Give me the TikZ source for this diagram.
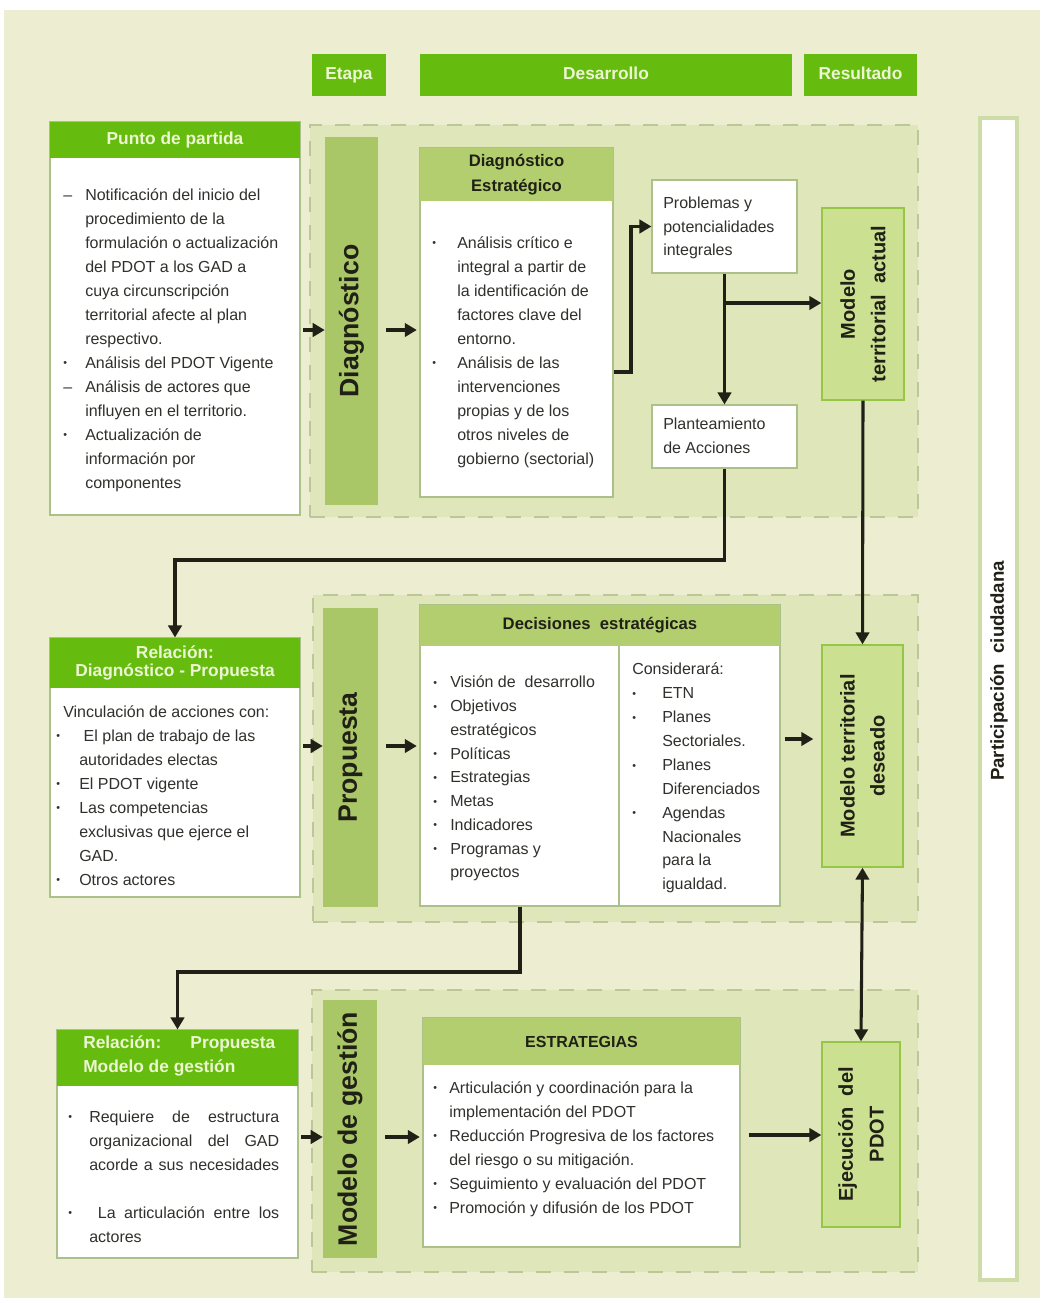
\documentclass[tikz,border=0pt]{standalone}
\usepackage{fontspec}
\setmainfont{Liberation Sans}
\usetikzlibrary{arrows.meta,fit,calc}
\definecolor{cream}{RGB}{237,237,210}
\definecolor{zone}{RGB}{222,230,186}
\definecolor{zoneline}{RGB}{188,198,152}
\definecolor{brightg}{RGB}{102,188,14}
\definecolor{olive}{RGB}{170,199,104}
\definecolor{olivehd}{RGB}{178,206,110}
\definecolor{modelf}{RGB}{203,224,145}
\definecolor{modeld}{RGB}{150,198,70}
\definecolor{wline}{RGB}{172,192,138}
\definecolor{htext}{RGB}{236,246,210}
\definecolor{ink}{RGB}{32,32,22}
\definecolor{bodyt}{RGB}{48,48,44}
\definecolor{partline}{RGB}{206,220,168}
\newcommand\bul{\raisebox{1pt}{\fontsize{8}{8}\selectfont •}}
\begin{document}
\begin{tikzpicture}[x=0.75pt,y=-0.75pt,
  zonebox/.style={fill=zone, draw=zoneline, line width=1.2pt, dash pattern=on 11pt off 10pt, inner sep=0pt},
  wbox/.style={fill=white, draw=wline, line width=0.8pt, inner sep=0pt},
  ghead/.style={fill=brightg, draw=none, inner sep=0pt, text=htext, font=\fontsize{13}{14}\selectfont\bfseries, align=center},
  ohead/.style={fill=olivehd, draw=none, inner sep=0pt, text=ink, font=\fontsize{12.5}{19}\selectfont\bfseries, align=center},
  barbox/.style={fill=olive, draw=none, inner sep=0pt},
  modelbox/.style={fill=modelf, draw=modeld, line width=1pt, inner sep=0pt},
  bartext/.style={rotate=90, inner sep=0pt, font=\fontsize{20}{22}\selectfont\bfseries, text=ink},
  mtext/.style={rotate=90, inner sep=0pt, font=\fontsize{15}{23}\selectfont\bfseries, align=center, text=ink},
  body/.style={anchor=north west, inner sep=0pt, font=\fontsize{12}{18}\selectfont, text=bodyt},
  arr/.style={draw=ink, line width=2.3pt, -{Triangle[length=9pt,width=10pt]}},
  darr/.style={draw=ink, line width=2.3pt, {Triangle[length=9pt,width=10pt]}-{Triangle[length=9pt,width=10pt]}}
]
% background
\fill[white] (0,0) rectangle (1043,1303);
\fill[cream] (4,10) rectangle (1040,1298);
\useasboundingbox (0,0) rectangle (1043,1303);

% top headers
\node[ghead, fit={(312,54)(386,96)}] (etapa) {};
\node[ghead] (etapat) at (etapa.center) {Etapa\vphantom{Ep}};
\node[ghead, fit={(420,54)(792,96)}] (desa) {};
\node[ghead] (desat) at (desa.center) {Desarrollo\vphantom{Ep}};
\node[ghead, fit={(804,54)(917,96)}] (resu) {};
\node[ghead] (resut) at (resu.center) {Resultado\vphantom{Ep}};

% participacion
\node[fill=white, draw=partline, line width=2.5pt, inner sep=0pt, fit={(980,118)(1017,1280)}] (part) {};
\node[rotate=90, inner sep=0pt, font=\fontsize{14}{16}\selectfont\bfseries, text=ink] (partt) at (999,671) {Participación\ \ ciudadana};

% zones
\node[zonebox, fit={(310,125)(918,517)}] (zone1) {};
\node[zonebox, fit={(313,595)(918,922)}] (zone2) {};
\node[zonebox, fit={(312,990)(918,1272)}] (zone3) {};

% ===== Row 1 =====
\node[wbox, fit={(50,122)(300,515)}] (punto) {};
\node[ghead, fit={(50,122)(300,158)}] (puntoh) {};
\node[ghead] (puntoht) at (puntoh.center) {Punto de partida};
\node[body] (puntot) at (63,183) {\begin{tabular}{@{}p{16.5pt}@{}l@{}}
-- & Notificación del inicio del\\
 & procedimiento de la\\
 & formulación o actualización\\
 & del PDOT a los GAD a\\
 & cuya circunscripción\\
 & territorial afecte al plan\\
 & respectivo.\\
\bul & Análisis del PDOT Vigente\\
-- & Análisis de actores que\\
 & influyen en el territorio.\\
\bul & Actualización de\\
 & información por\\
 & componentes
\end{tabular}};

\node[barbox, fit={(325,137)(378,505)}] (diagbar) {};
\node[bartext] (diagbart) at (diagbar.center) {Diagnóstico};

\node[wbox, fit={(420,148)(613,497)}] (de) {};
\node[ohead, fit={(420,148)(613,201)}] (deh) {};
\node[ohead] (deht) at (deh.center) {Diagnóstico\\Estratégico};
\node[body] (det) at (432,231) {\begin{tabular}{@{}p{18.75pt}@{}l@{}}
\bul & Análisis crítico e\\
 & integral a partir de\\
 & la identificación de\\
 & factores clave del\\
 & entorno.\\
\bul & Análisis de las\\
 & intervenciones\\
 & propias y de los\\
 & otros niveles de\\
 & gobierno (sectorial)
\end{tabular}};

\node[wbox, fit={(652,180)(797,273)}] (prob) {};
\node[body] (probt) at (663,192) {\fontsize{12}{17.6}\selectfont\begin{tabular}{@{}l@{}}
Problemas y\\ potencialidades\\ integrales\end{tabular}};
\node[wbox, fit={(652,405)(797,468)}] (plant) {};
\node[body] (plantt) at (663,413) {\fontsize{12}{17.6}\selectfont\begin{tabular}{@{}l@{}}
Planteamiento\\ de Acciones\end{tabular}};

\node[modelbox, fit={(822,208)(904,400)}] (mta) {};
\node[mtext] (mtat) at (mta.center) {Modelo\\territorial\ \ actual};

% ===== Row 2 =====
\node[wbox, fit={(50,638)(300,897)}] (rel1) {};
\node[ghead, fit={(50,638)(300,688)}] (rel1h) {};
\node[ghead, font=\fontsize{13}{13.5}\selectfont\bfseries] (rel1ht) at (rel1h.center) {Relación:\\Diagnóstico - Propuesta};
\node[body] (rel1t) at (56,700) {\begin{tabular}{@{}p{17.25pt}@{}l@{}}
\multicolumn{2}{@{}l@{}}{\hspace{5.25pt}Vinculación de acciones con:}\\
\bul & \ El plan de trabajo de las\\
 & autoridades electas\\
\bul & El PDOT vigente\\
\bul & Las competencias\\
 & exclusivas que ejerce el\\
 & GAD.\\
\bul & Otros actores
\end{tabular}};

\node[barbox, fit={(323,608)(378,907)}] (propbar) {};
\node[bartext] (propbart) at (propbar.center) {Propuesta};

\node[wbox, fit={(420,605)(780,906)}] (dec) {};
\node[ohead, fit={(420,605)(780,646)}] (dech) {};
\node[ohead] (decht) at (dech.center) {Decisiones\ \ estratégicas};
\draw[wline, line width=0.8pt] (dech.south -| 619,0) coordinate (decdiv) -- (dec.south -| 619,0) coordinate (decdivb);
\node[body] (declt) at (433,671) {\fontsize{12}{17.8}\selectfont\begin{tabular}{@{}p{12.75pt}@{}l@{}}
\bul & Visión de\ \ desarrollo\\
\bul & Objetivos\\
 & estratégicos\\
\bul & Políticas\\
\bul & Estrategias\\
\bul & Metas\\
\bul & Indicadores\\
\bul & Programas y\\
 & proyectos
\end{tabular}};
\node[body] (decrt) at (632,658) {\fontsize{12}{17.9}\selectfont\begin{tabular}{@{}p{22.5pt}@{}l@{}}
\multicolumn{2}{@{}l@{}}{Considerará:}\\
\bul & ETN\\
\bul & Planes\\
 & Sectoriales.\\
\bul & Planes\\
 & Diferenciados\\
\bul & Agendas\\
 & Nacionales\\
 & para la\\
 & igualdad.
\end{tabular}};

\node[modelbox, fit={(822,645)(903,867)}] (mtd) {};
\node[mtext, font=\fontsize{15}{22.5}\selectfont\bfseries] (mtdt) at (mtd.center) {Modelo territorial\\deseado};

% ===== Row 3 =====
\node[wbox, fit={(57,1030)(298,1258)}] (rel2) {};
\node[ghead, fit={(57,1030)(298,1086)}] (rel2h) {};
\node[ghead, anchor=north west, align=left, font=\fontsize{13}{18}\selectfont\bfseries] (rel2ht) at (83,1036) {\makebox[144pt][s]{Relación: Propuesta}\\Modelo de gestión};
\node[body] (rel2t) at (68,1105) {\begin{tabular}{@{}p{15.75pt}@{}l@{}}
\bul & \makebox[142.5pt][s]{Requiere de estructura}\\
 & \makebox[142.5pt][s]{organizacional del GAD}\\
 & \makebox[142.5pt][s]{acorde a sus necesidades}\\
 & \\
\bul & \makebox[142.5pt][s]{\ La articulación entre los}\\
 & actores
\end{tabular}};

\node[barbox, fit={(323,1000)(377,1258)}] (mgbar) {};
\node[bartext] (mgbart) at (mgbar.center) {Modelo de gestión};

\node[wbox, fit={(423,1018)(740,1247)}] (est) {};
\node[ohead, fit={(423,1018)(740,1065)}] (esth) {};
\node[ohead, font=\fontsize{12}{14}\selectfont\bfseries] (estht) at (esth.center) {ESTRATEGIAS};
\node[body] (estt) at (433,1076) {\begin{tabular}{@{}p{12pt}@{}l@{}}
\bul & Articulación y coordinación para la\\
 & implementación del PDOT\\
\bul & Reducción Progresiva de los factores\\
 & del riesgo o su mitigación.\\
\bul & Seguimiento y evaluación del PDOT\\
\bul & Promoción y difusión de los PDOT
\end{tabular}};

\node[modelbox, fit={(822,1042)(900,1227)}] (ejec) {};
\node[mtext] (eject) at (ejec.center) {Ejecución\ \ del\\PDOT};

% ===== Arrows =====
\draw[arr, shorten <=2pt] (punto.east |- 0,330) -- (diagbar.west |- 0,330);
\draw[arr, shorten <=6pt, shorten >=2pt] (diagbar.east |- 0,330) -- (de.west |- 0,330);
\draw[arr] (de.east |- 0,372) -- (631,372) |- (prob.west);
\draw[arr] (prob.south) -- (plant.north);
\draw[arr] (prob.south |- 0,303) -- (mta.west |- 0,303);
\draw[arr] (plant.south) -- (plant.south |- 0,560) -| (rel1.north);
\draw[arr] (mta.south) -- (mtd.north);

\draw[arr, shorten <=2pt] (rel1.east |- 0,746) -- (propbar.west |- 0,746);
\draw[arr, shorten <=6pt, shorten >=2pt] (propbar.east |- 0,746) -- (dec.west |- 0,746);
\draw[arr, shorten <=3pt, shorten >=6pt] (dec.east |- 0,739) -- (mtd.west |- 0,739);
\draw[arr] (dec.south -| 520,0) -- (520,972) -| (rel2.north);
\draw[darr] (mtd.south) -- (ejec.north);

\draw[arr, shorten <=2pt] (rel2.east |- 0,1137) -- (mgbar.west |- 0,1137);
\draw[arr, shorten <=6pt, shorten >=2pt] (mgbar.east |- 0,1137) -- (est.west |- 0,1137);
\draw[arr, shorten <=6pt] (est.east |- 0,1135) -- (ejec.west |- 0,1135);
\end{tikzpicture}
\end{document}
